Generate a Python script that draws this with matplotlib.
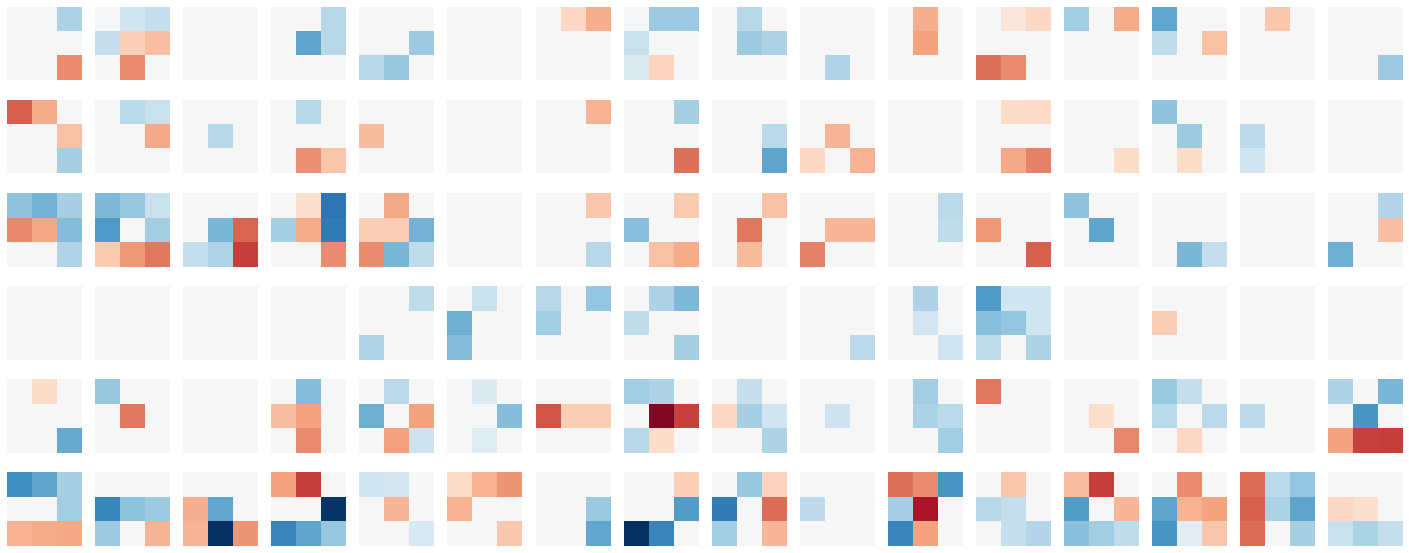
import numpy as np
import matplotlib
matplotlib.use("Agg")
import matplotlib.pyplot as plt

# each panel is a 3x3 grid, read left to right, top to bottom
blank = [0, 0, 0, 0, 0, 0, 0, 0, 0]

row1 = [
    [0, 0, .31, 0, 0, 0, 0, 0, -.47],
    [0, .2, .23, .23, -.24, -.3, 0, -.47, 0],
    blank,
    [0, 0, .28, 0, .53, .28, 0, 0, 0],
    [0, 0, 0, 0, 0, .36, .28, .38, 0],
    blank,
    [0, -.21, -.36, 0, 0, 0, 0, 0, 0],
    [0, .36, .36, .22, 0, 0, .14, -.22, 0],
    [0, .28, 0, 0, .36, .31, 0, 0, 0],
    [0, 0, 0, 0, 0, 0, 0, .3, 0],
    [0, -.36, 0, 0, -.4, 0, 0, 0, 0],
    [0, -.12, -.21, 0, 0, 0, -.55, -.47, 0],
    [.35, 0, -.37, 0, 0, 0, 0, 0, 0],
    [.52, 0, 0, .25, 0, -.29, 0, 0, 0],
    [0, -.27, 0, 0, 0, 0, 0, 0, 0],
    [0, 0, 0, 0, 0, 0, 0, 0, .36],
]
row2 = [
    [-.6, -.37, 0, 0, 0, -.29, 0, 0, .33],
    [0, .27, .22, 0, 0, -.38, 0, 0, 0],
    [0, 0, 0, 0, .28, 0, 0, 0, 0],
    [0, .28, 0, 0, 0, 0, 0, -.46, -.28],
    [0, 0, 0, -.32, 0, 0, 0, 0, 0],
    blank,
    [0, 0, -.35, 0, 0, 0, 0, 0, 0],
    [0, 0, .33, 0, 0, 0, 0, 0, -.55],
    [0, 0, 0, 0, 0, .27, 0, 0, .53],
    [0, 0, 0, 0, -.34, 0, -.21, 0, -.35],
    blank,
    [0, -.18, -.2, 0, 0, 0, 0, -.38, -.5],
    [0, 0, 0, 0, 0, 0, 0, 0, -.18],
    [.4, 0, 0, 0, .36, 0, 0, -.18, 0],
    [0, 0, 0, .26, 0, 0, .2, 0, 0],
    blank,
]
row3 = [
    [.4, .47, .33, -.48, -.39, .43, 0, 0, .3],
    [.44, .38, .22, .57, 0, .35, -.26, -.43, -.53],
    [0, 0, 0, 0, .46, -.58, .24, .3, -.69],
    [0, -.17, .72, .33, -.37, .71, 0, 0, -.47],
    [0, -.38, 0, -.25, -.25, .47, -.47, .46, .25],
    blank,
    [0, 0, -.27, 0, 0, 0, 0, 0, .28],
    [0, 0, -.26, .42, 0, 0, 0, -.29, -.37],
    [0, 0, -.29, 0, -.53, 0, 0, -.32, 0],
    [0, 0, 0, 0, -.33, -.33, -.5, 0, 0],
    [0, 0, .27, 0, 0, .25, 0, 0, 0],
    [0, 0, 0, -.43, 0, 0, 0, 0, -.6],
    [.4, 0, 0, 0, .53, 0, 0, 0, 0],
    [0, 0, 0, 0, 0, 0, 0, .46, .24],
    blank,
    [0, 0, .29, 0, 0, -.3, .49, 0, 0],
]
row4 = [
    blank,
    blank,
    blank,
    blank,
    [0, 0, .25, 0, 0, 0, .3, 0, 0],
    [0, .22, 0, .49, 0, 0, .43, 0, 0],
    [.28, 0, .39, .35, 0, 0, 0, 0, 0],
    [0, .31, .44, .25, 0, 0, 0, 0, .33],
    blank,
    [0, 0, 0, 0, 0, 0, 0, 0, .26],
    [0, .31, 0, 0, .19, 0, 0, 0, .2],
    [.57, .2, .2, .42, .39, .2, .25, 0, .31],
    blank,
    [0, 0, 0, -.25, 0, 0, 0, 0, 0],
    blank,
    blank,
]
row5 = [
    [0, -.18, 0, 0, 0, 0, 0, 0, .5],
    [.38, 0, 0, 0, -.53, 0, 0, 0, 0],
    blank,
    [0, .43, 0, -.31, -.4, 0, 0, -.47, 0],
    [0, .27, 0, .49, 0, -.4, 0, -.41, .21],
    [0, .13, 0, 0, 0, .43, 0, .12, 0],
    [0, 0, 0, -.63, -.25, -.25, 0, 0, 0],
    [.35, .31, 0, 0, -.93, -.68, .28, -.18, 0],
    [0, .24, 0, -.21, .33, .2, 0, 0, .31],
    [0, 0, 0, 0, .21, 0, 0, 0, 0],
    [0, .35, 0, 0, .32, .27, 0, 0, .35],
    [-.53, 0, 0, 0, 0, 0, 0, 0, 0],
    [0, 0, 0, 0, -.17, 0, 0, 0, -.48],
    [.37, .23, 0, .27, 0, .26, 0, -.21, 0],
    [0, 0, 0, .26, 0, 0, 0, 0, 0],
    [.31, 0, .46, 0, .58, 0, -.4, -.68, -.69],
]
row6 = [
    [.61, .53, .33, 0, 0, .35, -.35, -.37, -.39],
    [0, 0, 0, .65, .41, .36, .36, 0, -.34],
    [0, 0, 0, -.36, .52, 0, -.34, 1.0, -.44],
    [-.4, -.69, 0, 0, 0, .98, .66, .53, .38],
    [.2, .18, 0, 0, -.33, 0, 0, 0, .15],
    [-.19, -.35, -.44, -.35, 0, 0, 0, 0, -.27],
    [0, 0, 0, 0, 0, .37, 0, 0, .52],
    [0, 0, -.24, 0, 0, .56, 1.0, .66, 0],
    [0, .38, -.23, .7, 0, -.56, .34, 0, -.33],
    [0, 0, 0, .26, 0, 0, 0, 0, 0],
    [-.55, -.47, .58, .33, -.82, 0, .66, -.4, 0],
    [0, -.28, 0, .28, .24, 0, 0, .24, .29],
    [-.31, -.69, 0, .56, 0, -.33, .42, .35, .25],
    [0, -.47, 0, .53, -.35, -.4, .58, .11, -.28],
    [-.56, .27, .39, -.6, .32, .53, -.56, 0, .33],
    [0, 0, 0, -.21, -.16, 0, .22, .32, .24],
]
rows = [row1, row2, row3, row4, row5, row6]

fig, axes = plt.subplots(6, 16, figsize=(14.09, 5.53), dpi=100)
for i, row in enumerate(rows):
    for j, panel in enumerate(row):
        ax = axes[i, j]
        ax.imshow(np.array(panel).reshape(3, 3), cmap="RdBu", vmin=-1, vmax=1, aspect="auto", interpolation="nearest")
        ax.axis("off")

fig.subplots_adjust(left=7/1409, right=1402.5/1409, top=1-6.8/553, bottom=1-545.8/553, wspace=0.19, hspace=0.265)
fig.savefig("out.png", dpi=100)
